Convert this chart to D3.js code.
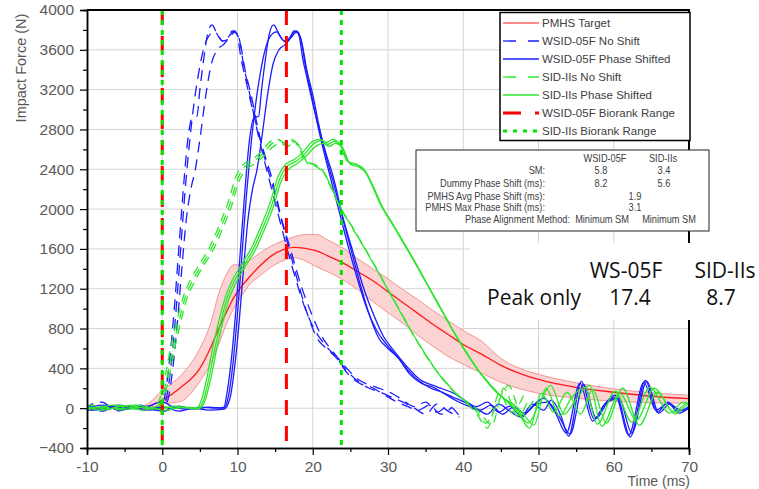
<!DOCTYPE html>
<html>
<head>
<meta charset="utf-8">
<script src="https://cdn.jsdelivr.net/npm/d3@7"></script>
<style>
body { margin: 0; background: #fff; }
svg { font-family: "Liberation Sans", Arial, sans-serif; }
</style>
</head>
<body>
<div class="chart"></div>
<script>
// axis ticks
const xTicks = [-10, 0, 10, 20, 30, 40, 50, 60, 70];
const xMinor = [-5, 5, 15, 25, 35, 45, 55, 65];
const yTicks = [-400, 0, 400, 800, 1200, 1600, 2000, 2400, 2800, 3200, 3600, 4000];
const yMinor = [-200, 200, 600, 1000, 1400, 1800, 2200, 2600, 3000, 3400, 3800];

// PMHS target corridor (time, mean, upper, lower)
const pmhsTime  = [-10, -4, -2, 0, 2.5, 5, 6.5, 7.5, 8.5, 9.5, 10.5, 11.5, 13, 14.5, 16, 17.5, 19, 20.5, 22, 24, 26, 28, 30, 32, 34, 36, 38, 40, 42.5, 45, 47.5, 50, 55, 60, 65, 70];
const pmhsMean  = [0, 0, 15, 80, 210, 400, 620, 800, 960, 1110, 1220, 1310, 1430, 1530, 1590, 1615, 1605, 1580, 1530, 1460, 1370, 1280, 1170, 1060, 950, 840, 740, 640, 540, 430, 350, 290, 210, 160, 120, 95];
const pmhsUpper = [0, 0, 40, 180, 330, 600, 870, 1150, 1340, 1440, 1440, 1480, 1560, 1630, 1680, 1720, 1745, 1745, 1690, 1610, 1500, 1400, 1300, 1190, 1090, 980, 880, 780, 670, 500, 400, 340, 255, 195, 155, 130];
const pmhsLower = [0, 0, 0, 40, 70, 270, 460, 640, 840, 1000, 1120, 1230, 1330, 1420, 1480, 1510, 1480, 1420, 1370, 1290, 1190, 1070, 960, 850, 730, 620, 520, 440, 350, 260, 195, 150, 100, 70, 55, 50];

// dummy phase shifts from the table (ms)
const dummyShift = [8.2, 5.6];
const noShiftEnd = [39.5, 49.5];

// WSID-05F traces, no-shift time base [ms, N]
const wsid1 = [[-20,0],[-18,20],[-16,-10],[-14,30],[-12,10],[-10,20],[-9,50],[-8,60],[-7,20],[-5,-10],[-3,10],[-1,0],[0,10],[0.4,150],[1,500],[1.6,1000],[2.2,1600],[2.8,2200],[3.4,2700],[4,2920],[4.6,2930],[5,3200],[5.5,3500],[6,3750],[6.6,3850],[7.3,3760],[8,3690],[8.6,3700],[9.3,3790],[9.9,3760],[10.5,3500],[11,3330],[12,3000],[12.8,2760],[13.6,2550],[14.5,2330],[15.9,1890],[17.2,1555],[18.5,1220],[19.8,955],[21.2,720],[22.5,585],[24.3,420],[26.1,285],[28.3,215],[30.5,150],[32,80],[33.5,15],[35,60],[36.5,-40],[38,20],[39.5,-80],[41,40],[42.5,-20],[43.5,80],[44.8,-80],[45.8,-280],[47.5,270],[49.2,-110],[50.7,50],[52.2,110],[54,-290],[56,280],[57.6,-40],[59,60],[60.5,-30],[62,30]];
const wsid2 = [[-20,10],[-17,-20],[-15,20],[-13,0],[-11,30],[-10,0],[-8,-30],[-6,20],[-4,-10],[-2,10],[0,0],[0.6,120],[1.2,450],[1.8,950],[2.4,1550],[3,2150],[3.6,2650],[4.2,3050],[4.8,3350],[5.4,3580],[6.2,3740],[7,3780],[7.6,3720],[8.2,3680],[8.9,3740],[9.6,3790],[10.2,3720],[10.8,3450],[11.5,3200],[12.3,2900],[13.2,2600],[14.2,2300],[15.4,1950],[16.6,1600],[17.8,1280],[19,1000],[20.3,780],[21.6,640],[23,520],[24.5,380],[26,270],[27.5,200],[29,160],[30.5,110],[32,60],[33.5,0],[35,-60],[36.5,40],[38,-30],[39.5,-90],[41,20],[42.5,100],[44,-40],[45.5,-250],[47.3,250],[49,-130],[50.5,30],[52,130],[53.8,-270],[55.8,260],[57.4,-20],[59,50],[60.5,-50],[62,20]];
const wsid3 = [[-20,-10],[-18,10],[-16,30],[-14,-20],[-12,0],[-10,-20],[-8,10],[-6,-30],[-4,0],[-2,-20],[0,-10],[0.8,100],[1.4,400],[2,850],[2.6,1400],[3.2,1900],[3.8,2200],[4.4,2400],[5,2700],[5.8,3150],[6.5,3450],[7.3,3600],[8.1,3650],[8.9,3720],[9.7,3780],[10.4,3650],[11,3400],[11.8,3150],[12.6,2850],[13.5,2550],[14.6,2250],[15.8,1900],[17,1560],[18.2,1220],[19.4,920],[20.6,700],[21.8,600],[23.2,500],[24.6,350],[26.2,250],[27.8,210],[29.4,140],[31,70],[32.5,20],[34,-20],[35.5,30],[37,-60],[38.5,10],[40,-50],[41.5,40],[43,60],[44.5,-80],[46,-260],[47.8,240],[49.5,-100],[51,60],[52.5,100],[54.2,-250],[56.2,270],[57.8,-50],[59.2,40],[60.8,-20],[62,0]];

// SID-IIs traces, no-shift time base [ms, N]
const sid1 = [[-20,0],[-18,20],[-16,-10],[-14,10],[-12,30],[-10,10],[-8,-20],[-6,20],[-4,0],[-2,10],[-1,0],[-0.4,80],[0.4,330],[1.2,640],[2,900],[2.8,1120],[3.8,1300],[5,1450],[6.3,1620],[7.6,1840],[8.8,2080],[9.8,2330],[10.8,2450],[12,2500],[13.2,2580],[14.4,2680],[15.4,2700],[16.2,2670],[17,2700],[18,2650],[19,2480],[20.2,2450],[21.2,2400],[22.2,2250],[23.4,2050],[24.8,1880],[26.2,1700],[27.6,1520],[29,1330],[30.4,1140],[31.8,950],[33.2,760],[34.6,580],[36,420],[37.4,280],[38.8,160],[40.2,80],[41.4,20],[42.6,-80],[43.8,-170],[45.4,200],[47.2,-80],[48.8,110],[50.6,210],[52.2,-160],[54.6,170],[56.8,-140],[59.2,210],[61.8,-50],[63.6,60],[65,0]];
const sid2 = [[-20,10],[-17,-20],[-15,10],[-13,-10],[-11,20],[-9,30],[-7,0],[-5,-20],[-3,10],[-1,-10],[-0.2,60],[0.6,300],[1.4,600],[2.2,870],[3,1100],[4,1280],[5.2,1430],[6.5,1600],[7.8,1820],[9,2050],[10,2300],[11,2430],[12.2,2480],[13.4,2560],[14.6,2660],[15.6,2690],[16.4,2650],[17.2,2680],[18.2,2640],[19.2,2470],[20.4,2440],[21.4,2380],[22.4,2230],[23.6,2020],[25,1850],[26.4,1670],[27.8,1490],[29.2,1300],[30.6,1110],[32,920],[33.4,730],[34.8,560],[36.2,400],[37.6,270],[39,150],[40.4,60],[41.6,-20],[43,-150],[44.6,60],[46,230],[47.8,-60],[49.4,90],[51.2,230],[52.8,-180],[55.2,150],[57.4,-120],[59.8,200],[62.4,-40],[64.2,50],[65,10]];
const sid3 = [[-20,-10],[-18,0],[-16,20],[-14,-20],[-12,0],[-10,-10],[-8,10],[-6,-10],[-4,20],[-2,0],[-0.6,0],[0,60],[0.8,280],[1.6,580],[2.4,850],[3.2,1080],[4.2,1260],[5.4,1420],[6.7,1580],[8,1800],[9.2,2030],[10.2,2280],[11.2,2400],[12.4,2460],[13.6,2540],[14.8,2630],[15.8,2660],[16.6,2630],[17.4,2660],[18.4,2610],[19.4,2450],[20.6,2420],[21.6,2350],[22.6,2200],[23.8,2000],[25.2,1820],[26.6,1640],[28,1460],[29.4,1270],[30.8,1080],[32.2,890],[33.6,710],[35,540],[36.4,380],[37.8,250],[39.2,140],[40.6,40],[41.8,-60],[43.2,-200],[44.8,150],[46.4,-40],[48.2,160],[50,-60],[51.6,190],[53.4,-150],[55.6,200],[57.8,-170],[60.2,160],[62.6,-60],[64.4,40],[65,0]];

// biorank ranges (ms)
const wsidRange = [0, 16.5];
const sidRange = [0, 23.8];

// legend, table and peak box texts
const legendLabels = ['PMHS Target', 'WSID-05F No Shift', 'WSID-05F Phase Shifted', 'SID-IIs No Shift', 'SID-IIs Phase Shifted', 'WSID-05F Biorank Range', 'SID-IIs Biorank Range'];
const tableHeader = ['WSID-05F', 'SID-IIs'];
const tableRows = [
    ['SM:', '5.8', '3.4'],
    ['Dummy Phase Shift (ms):', '8.2', '5.6'],
    ['PMHS Avg Phase Shift (ms):', '1.9'],
    ['PMHS Max Phase Shift (ms):', '3.1'],
    ['Phase Alignment Method:', 'Minimum SM', 'Minimum SM']
];
const peakHeaders = ['WS-05F', 'SID-IIs'];
const peakLabel = 'Peak only';
const peakValues = ['17.4', '8.7'];

const width = 759;
const height = 489;
const red = '#ff1a1a', blue = '#1c1cff', green = '#2ee62e';

const svg = d3.select('.chart')
    .append('svg')
    .attr('width', width)
    .attr('height', height);

const x = d3.scaleLinear().domain([-10, 70]).range([87, 689]);
const y = d3.scaleLinear().domain([-400, 4000]).range([448, 10]);

svg.append('clipPath').attr('id', 'plot')
    .append('rect')
    .attr('x', x(-10)).attr('y', y(4000))
    .attr('width', x(70) - x(-10)).attr('height', y(-400) - y(4000));

//grid lines
svg.append('g').selectAll('line')
    .data(xTicks.slice(1, -1))
    .enter().append('line')
    .attr('x1', d => x(d)).attr('x2', d => x(d))
    .attr('y1', y(4000)).attr('y2', y(-400))
    .attr('stroke', '#d4d4d4');
svg.append('g').selectAll('line')
    .data(yTicks.slice(1, -1))
    .enter().append('line')
    .attr('y1', d => y(d)).attr('y2', d => y(d))
    .attr('x1', x(-10)).attr('x2', x(70))
    .attr('stroke', '#d4d4d4');

const plot = svg.append('g').attr('clip-path', 'url(#plot)');

//PMHS corridor
const band = d3.area()
    .x((d, i) => x(pmhsTime[i]))
    .y0((d, i) => y(pmhsLower[i]))
    .y1((d, i) => y(pmhsUpper[i]))
    .curve(d3.curveMonotoneX);
plot.append('path').datum(pmhsTime)
    .attr('d', band)
    .attr('fill', '#fbd3d3');
const valueLine = d3.line()
    .x(d => x(d[0]))
    .y(d => y(d[1]))
    .curve(d3.curveMonotoneX);
[pmhsUpper, pmhsLower].forEach(vals => {
    plot.append('path').datum(pmhsTime.map((t, i) => [t, vals[i]]))
        .attr('d', valueLine)
        .attr('fill', 'none')
        .attr('stroke', '#f08080')
        .attr('stroke-width', 0.8);
});
plot.append('path').datum(pmhsTime.map((t, i) => [t, pmhsMean[i]]))
    .attr('d', valueLine)
    .attr('fill', 'none')
    .attr('stroke', red)
    .attr('stroke-width', 1.3);

//dummy traces: dashed at recorded time, solid shifted by the dummy phase shift
function drawTraces(traces, color, shift, end, dash) {
    traces.forEach(tr => {
        plot.append('path').datum(tr.filter(d => d[0] <= end))
            .attr('d', valueLine)
            .attr('fill', 'none')
            .attr('stroke', color)
            .attr('stroke-width', 1.3)
            .attr('stroke-dasharray', dash);
    });
    const shifted = d3.line()
        .x(d => x(d[0] + shift))
        .y(d => y(d[1]))
        .curve(d3.curveMonotoneX);
    traces.forEach(tr => {
        plot.append('path').datum(tr)
            .attr('d', shifted)
            .attr('fill', 'none')
            .attr('stroke', color)
            .attr('stroke-width', 1.3);
    });
}
drawTraces([wsid1, wsid2, wsid3], blue, dummyShift[0], noShiftEnd[0], '11,7');
drawTraces([sid1, sid2, sid3], green, dummyShift[1], noShiftEnd[1], '9,6');

//biorank range lines
svg.selectAll('line.wsid-range')
    .data(wsidRange)
    .enter().append('line')
    .attr('x1', d => x(d)).attr('x2', d => x(d))
    .attr('y1', y(4000)).attr('y2', y(-400))
    .attr('stroke', '#ff0000')
    .attr('stroke-width', 3)
    .attr('stroke-dasharray', '15,11');
svg.selectAll('line.sid-range')
    .data(sidRange)
    .enter().append('line')
    .attr('x1', d => x(d)).attr('x2', d => x(d))
    .attr('y1', y(4000)).attr('y2', y(-400))
    .attr('stroke', '#00e600')
    .attr('stroke-width', 3)
    .attr('stroke-dasharray', '5,5');

//axes
const tickColor = '#595959';
function styleAxis(g) {
    g.select('.domain').attr('stroke', '#000').attr('stroke-width', 1.5);
    g.selectAll('.tick line').attr('stroke', '#000').attr('stroke-width', 1.2);
    g.selectAll('.tick text').attr('fill', tickColor).attr('font-size', 15.5)
        .attr('font-family', '"Liberation Sans", Arial, sans-serif');
}
svg.append('g').attr('transform', `translate(0,${y(-400)})`)
    .call(d3.axisBottom(x).tickValues(xMinor).tickSize(4).tickFormat(''))
    .call(styleAxis);
svg.append('g').attr('transform', `translate(0,${y(-400)})`)
    .call(d3.axisBottom(x).tickValues(xTicks).tickSize(7).tickPadding(6).tickFormat(d => String(d)))
    .call(styleAxis);
svg.append('g').attr('transform', `translate(${x(-10)},0)`)
    .call(d3.axisLeft(y).tickValues(yMinor).tickSize(4).tickFormat(''))
    .call(styleAxis);
svg.append('g').attr('transform', `translate(${x(-10)},0)`)
    .call(d3.axisLeft(y).tickValues(yTicks).tickSize(7).tickPadding(6).tickFormat(d3.format('d')))
    .call(styleAxis);

//frame top and right
svg.append('line')
    .attr('x1', x(-10)).attr('x2', x(70) + 1)
    .attr('y1', y(4000)).attr('y2', y(4000))
    .attr('stroke', '#000').attr('stroke-width', 2);
svg.append('line')
    .attr('x1', x(70)).attr('x2', x(70))
    .attr('y1', y(4000)).attr('y2', y(-400))
    .attr('stroke', '#000').attr('stroke-width', 2);

//axis titles
svg.append('text')
    .text('Impact Force (N)')
    .attr('transform', 'translate(26,68) rotate(-90)')
    .attr('text-anchor', 'middle')
    .attr('font-size', 14.5)
    .attr('fill', tickColor);
svg.append('text')
    .text('Time (ms)')
    .attr('x', 690).attr('y', 486)
    .attr('text-anchor', 'end')
    .attr('font-size', 14)
    .attr('fill', tickColor);

//legend
const legend = svg.append('g');
legend.append('rect')
    .attr('x', 500).attr('y', 12.5)
    .attr('width', 190).attr('height', 128)
    .attr('fill', '#fff')
    .attr('stroke', '#000')
    .attr('stroke-width', 1.5);
const legendStyles = [
    {color: red, width: 1.2, dash: null},
    {color: blue, width: 1.3, dash: '13,12'},
    {color: blue, width: 1.5, dash: null},
    {color: green, width: 1.3, dash: '13,12'},
    {color: green, width: 1.5, dash: null},
    {color: '#ff0000', width: 3, dash: '18,14'},
    {color: '#00e600', width: 3, dash: '4,6'}
];
legendLabels.forEach((label, i) => {
    const cy = 23 + i * 18;
    legend.append('line')
        .attr('x1', 503).attr('x2', 539)
        .attr('y1', cy).attr('y2', cy)
        .attr('stroke', legendStyles[i].color)
        .attr('stroke-width', legendStyles[i].width)
        .attr('stroke-dasharray', legendStyles[i].dash);
    legend.append('text')
        .text(label)
        .attr('x', 542).attr('y', cy + 4)
        .attr('font-size', 11.5)
        .attr('fill', '#404040');
});

//statistics table (text slightly condensed like the original)
const table = svg.append('g').attr('font-size', 10.6).attr('fill', '#404040');
table.append('rect')
    .attr('x', 416).attr('y', 150)
    .attr('width', 293).attr('height', 81)
    .attr('fill', '#fff')
    .attr('stroke', '#222')
    .attr('stroke-width', 1);
function tableText(str, tx, ty, anchor) {
    table.append('text')
        .text(str)
        .attr('transform', `translate(${tx},${ty}) scale(0.87,1)`)
        .attr('text-anchor', anchor);
}
const rowY = [174, 187, 199.5, 211, 223];
tableHeader.forEach((h, i) => tableText(h, [605, 663][i], 162, 'middle'));
tableRows.forEach((row, i) => {
    const last = i === tableRows.length - 1;
    tableText(row[0], last ? 570 : 545, rowY[i], 'end');
    const cols = row.length === 2 ? [635] : (last ? [602, 669] : [601, 664]);
    row.slice(1).forEach((v, j) => tableText(v, cols[j], rowY[i], 'middle'));
});

//peak only box
const peak = svg.append('g')
    .attr('font-family', '"Open Sans", sans-serif')
    .attr('font-size', 21)
    .attr('fill', '#111');
peak.append('rect')
    .attr('x', 470).attr('y', 243)
    .attr('width', 289).attr('height', 77)
    .attr('fill', '#fff');
peak.selectAll('text.ph')
    .data(peakHeaders)
    .enter().append('text')
    .text(d => d)
    .attr('x', (d, i) => [626, 725][i]).attr('y', 278)
    .attr('text-anchor', 'middle');
peak.append('text')
    .text(peakLabel)
    .attr('x', 487).attr('y', 305);
peak.selectAll('text.pv')
    .data(peakValues)
    .enter().append('text')
    .text(d => d)
    .attr('x', (d, i) => [630, 721][i]).attr('y', 305)
    .attr('text-anchor', 'middle');
</script>
</body>
</html>
